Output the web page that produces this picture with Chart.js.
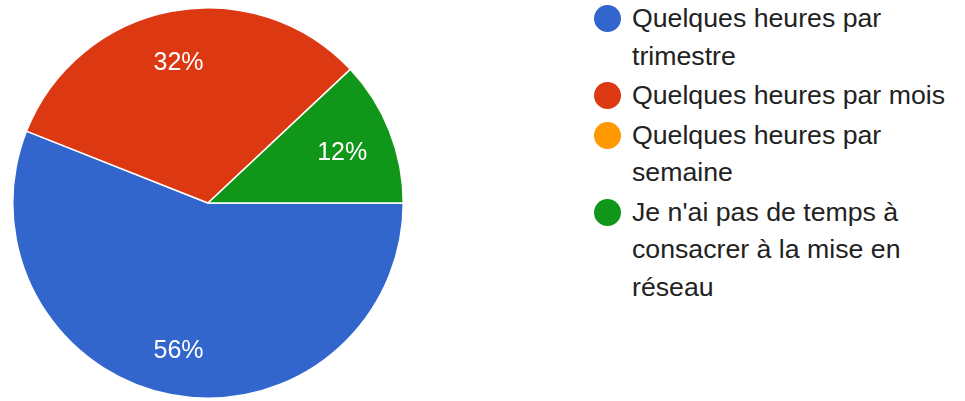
<!DOCTYPE html>
<html lang="fr">
<head>
<meta charset="UTF-8">
<title>Temps consacré à la mise en réseau</title>
<script src="https://cdn.jsdelivr.net/npm/chart.js"></script>
<style>
    html, body {
        margin: 0;
        padding: 0;
        width: 965px;
        height: 401px;
        overflow: hidden;
        background: #fff;
        font-family: "Liberation Sans", Arial, sans-serif;
    }
    #pie-box {
        position: absolute;
        left: 12px;
        top: 7px;
        width: 392px;
        height: 392px;
    }
    #legend {
        position: absolute;
        left: 594px;
        top: 0px;
        width: 370px;
        margin: 0;
        padding: 0;
        list-style: none;
    }
    #legend li {
        display: flex;
        align-items: flex-start;
        margin-bottom: 2px;
    }
    #legend .dot {
        flex: none;
        width: 27px;
        height: 27px;
        border-radius: 50%;
        margin-top: 5px;
        margin-right: 11px;
    }
    #legend .txt {
        max-width: 330px;
        font-size: 26.7px;
        line-height: 37.5px;
        color: #222;
    }
</style>
</head>
<body>
<div id="pie-box"><canvas id="pie"></canvas></div>
<ul id="legend"></ul>

<script>
    // réponses (25 au total)
    const categories = [
        'Quelques heures par trimestre',
        'Quelques heures par mois',
        'Quelques heures par semaine',
        "Je n'ai pas de temps à consacrer à la mise en réseau"
    ];
    const counts = [14, 8, 0, 3];
    const colors = ['#3366cc', '#dc3912', '#ff9900', '#109618'];

    const total = counts.reduce((a, b) => a + b, 0);

    // légende à droite (texte qui revient à la ligne)
    const legend = document.getElementById('legend');
    categories.forEach((name, i) => {
        const li = document.createElement('li');
        const dot = document.createElement('span');
        dot.className = 'dot';
        dot.style.background = colors[i];
        const txt = document.createElement('span');
        txt.className = 'txt';
        txt.textContent = name;
        li.appendChild(dot);
        li.appendChild(txt);
        legend.appendChild(li);
    });

    // pourcentages blancs dans les parts
    const sliceLabels = {
        id: 'sliceLabels',
        afterDatasetsDraw(chart) {
            const ctx = chart.ctx;
            const meta = chart.getDatasetMeta(0);
            ctx.save();
            ctx.fillStyle = '#fff';
            ctx.font = '25px "Liberation Sans", Arial, sans-serif';
            ctx.textAlign = 'center';
            ctx.textBaseline = 'middle';
            meta.data.forEach((arc, i) => {
                const v = counts[i];
                if (!v) return;
                const p = arc.getProps(['x', 'y', 'startAngle', 'endAngle', 'outerRadius'], true);
                const mid = (p.startAngle + p.endAngle) / 2;
                const r = p.outerRadius * 0.75;
                const pct = Math.round(v / total * 100) + '%';
                ctx.fillText(pct, p.x + Math.cos(mid) * r - 2, p.y + Math.sin(mid) * r + 4);
            });
            ctx.restore();
        }
    };

    new Chart(document.getElementById('pie'), {
        type: 'pie',
        data: {
            labels: categories,
            datasets: [{
                data: counts,
                backgroundColor: colors,
                borderColor: '#ffffff',
                borderWidth: 1.5
            }]
        },
        options: {
            responsive: true,
            maintainAspectRatio: false,
            animation: false,
            rotation: 90,
            layout: { padding: 0 },
            plugins: {
                legend: { display: false },
                tooltip: { enabled: false }
            }
        },
        plugins: [sliceLabels]
    });
</script>
</body>
</html>
